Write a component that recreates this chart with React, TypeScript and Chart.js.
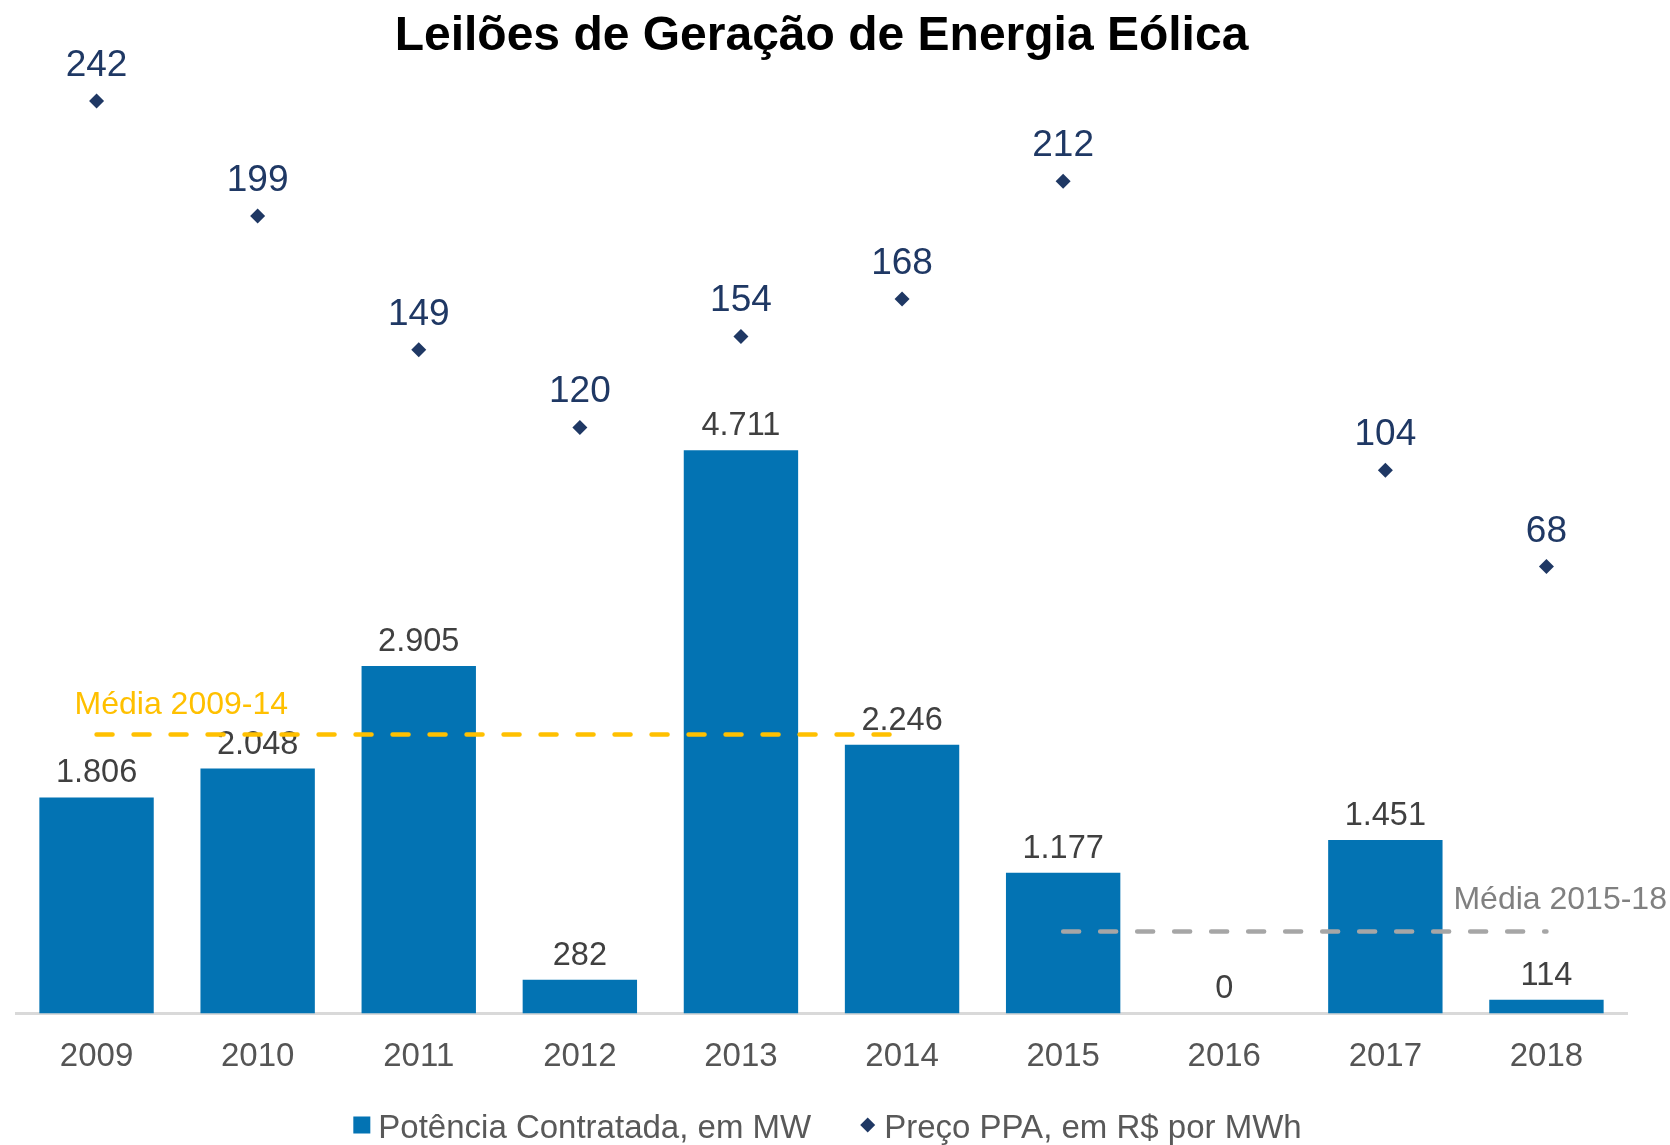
import React, { useEffect, useRef } from 'react';
import { Chart, registerables } from 'chart.js';

Chart.register(...registerables);

const FONT = '"Liberation Sans", Arial, Helvetica, sans-serif';

// ---- Data ----
const years = ['2009', '2010', '2011', '2012', '2013', '2014', '2015', '2016', '2017', '2018'];
const potenciaMW = [1806, 2048, 2905, 282, 4711, 2246, 1177, 0, 1451, 114];
const precoPPA = [242, 199, 149, 120, 154, 168, 212, null, 104, 68];
const media2009a14 = [2333, 2333, 2333, 2333, 2333, 2333, null, null, null, null];
const media2015a18 = [null, null, null, null, null, null, 686, 686, 686, 686];

const titleText = 'Leilões de Geração de Energia Eólica';
const serieBarLabel = 'Potência Contratada, em MW';
const seriePrecoLabel = 'Preço PPA, em R$ por MWh';
const mediaLabelA = 'Média 2009-14';
const mediaLabelB = 'Média 2015-18';

const BAR_COLOR = '#0373B3';
const PRICE_COLOR = '#1F3864';
const YELLOW = '#FFC000';
const GREY_LINE = '#A6A6A6';

const fmt = (v: number) => String(v).replace(/\B(?=(\d{3})+(?!\d))/g, '.');

const labelsPlugin = {
  id: 'customLabels',
  afterDatasetDraw(chart: any, args: any) {
    if (args.index !== 0) return;
    const ctx = chart.ctx;
    const meta = chart.getDatasetMeta(0);
    ctx.save();
    ctx.font = `32.5px ${FONT}`;
    ctx.fillStyle = '#404040';
    ctx.textAlign = 'center';
    ctx.textBaseline = 'alphabetic';
    meta.data.forEach((bar: any, i: number) => {
      ctx.fillText(fmt(potenciaMW[i]), bar.x, bar.y - 15);
    });
    ctx.restore();
  },
  afterDatasetsDraw(chart: any) {
    const ctx = chart.ctx;
    ctx.save();
    // price labels
    const meta = chart.getDatasetMeta(1);
    ctx.font = `37px ${FONT}`;
    ctx.fillStyle = PRICE_COLOR;
    ctx.textAlign = 'center';
    ctx.textBaseline = 'alphabetic';
    meta.data.forEach((pt: any, i: number) => {
      const v = precoPPA[i];
      if (v == null) return;
      ctx.fillText(String(v), pt.x, pt.y - 25);
    });
    // media labels
    const xS = chart.scales.x;
    const yS = chart.scales.y;
    ctx.font = `32px ${FONT}`;
    ctx.textAlign = 'left';
    const aIdx = media2009a14.findIndex((v) => v != null);
    const aVal = media2009a14[aIdx] as number;
    ctx.fillStyle = YELLOW;
    ctx.fillText(mediaLabelA, xS.getPixelForValue(aIdx) - 22, yS.getPixelForValue(aVal) - 20);
    let bIdx = -1;
    media2015a18.forEach((v, i) => { if (v != null) bIdx = i; });
    const bVal = media2015a18[bIdx] as number;
    ctx.fillStyle = '#808080';
    ctx.fillText(mediaLabelB, xS.getPixelForValue(bIdx) - 93, yS.getPixelForValue(bVal) - 22);
    ctx.restore();
  },
  afterDraw(chart: any) {
    // legend
    const ctx = chart.ctx;
    ctx.save();
    ctx.font = `33px ${FONT}`;
    const w1 = ctx.measureText(serieBarLabel).width;
    const w2 = ctx.measureText(seriePrecoLabel).width;
    const sq = 17;
    const dm = 15;
    const gapBox = 8;
    const gapItems = 49;
    const total = sq + gapBox + w1 + gapItems + dm + 9 + w2;
    const area = chart.chartArea;
    let x = (area.left + area.right) / 2 + 6 - total / 2;
    const cy = chart.height - 20;
    ctx.fillStyle = BAR_COLOR;
    ctx.fillRect(x, cy - sq / 2, sq, sq);
    x += sq + gapBox;
    ctx.fillStyle = '#595959';
    ctx.textAlign = 'left';
    ctx.textBaseline = 'alphabetic';
    ctx.fillText(serieBarLabel, x, cy + 13);
    x += w1 + gapItems;
    ctx.fillStyle = PRICE_COLOR;
    ctx.beginPath();
    ctx.moveTo(x + dm / 2, cy - dm / 2);
    ctx.lineTo(x + dm, cy);
    ctx.lineTo(x + dm / 2, cy + dm / 2);
    ctx.lineTo(x, cy);
    ctx.closePath();
    ctx.fill();
    x += dm + 9;
    ctx.fillStyle = '#595959';
    ctx.fillText(seriePrecoLabel, x, cy + 13);
    ctx.restore();
  },
};

export default function App() {
  const canvasRef = useRef<HTMLCanvasElement | null>(null);

  useEffect(() => {
    if (!canvasRef.current) return;
    Chart.defaults.font.family = FONT;
    const chart = new Chart(canvasRef.current, {
      type: 'bar',
      data: {
        labels: years,
        datasets: [
          {
            type: 'bar',
            label: serieBarLabel,
            data: potenciaMW,
            backgroundColor: BAR_COLOR,
            borderWidth: 0,
            barPercentage: 0.71,
            categoryPercentage: 1,
            yAxisID: 'y',
            order: 4,
          } as any,
          {
            type: 'line',
            label: seriePrecoLabel,
            data: precoPPA,
            showLine: false,
            pointStyle: 'rectRot',
            pointRadius: 7.5,
            pointBackgroundColor: PRICE_COLOR,
            pointBorderColor: PRICE_COLOR,
            pointBorderWidth: 0,
            yAxisID: 'y2',
            clip: false,
            order: 1,
          } as any,
          {
            type: 'line',
            label: mediaLabelA,
            data: media2009a14,
            borderColor: YELLOW,
            borderWidth: 4.5,
            borderDash: [16, 21],
            borderCapStyle: 'round',
            pointRadius: 0,
            fill: false,
            yAxisID: 'y',
            order: 2,
          } as any,
          {
            type: 'line',
            label: mediaLabelB,
            data: media2015a18,
            borderColor: GREY_LINE,
            borderWidth: 4.5,
            borderDash: [16, 21],
            borderCapStyle: 'round',
            pointRadius: 0,
            fill: false,
            yAxisID: 'y',
            order: 3,
          } as any,
        ],
      },
      plugins: [labelsPlugin],
      options: {
        responsive: true,
        maintainAspectRatio: false,
        animation: false,
        events: [],
        layout: { padding: { top: 0, left: 16, right: 43, bottom: 45 } },
        plugins: {
          legend: { display: false },
          tooltip: { enabled: false },
          title: {
            display: true,
            text: titleText,
            color: '#000000',
            font: { size: 48, weight: 'bold', family: FONT },
            padding: { top: 8, bottom: 14 },
          },
        },
        scales: {
          x: {
            grid: { display: false, drawTicks: false },
            border: { display: true, color: '#D9D9D9', width: 3 },
            ticks: { font: { size: 33, family: FONT }, color: '#555555', padding: 23.5 },
          },
          y: { display: false, min: 0, max: 7810 },
          y2: { display: false, min: -99, max: 250, position: 'right' },
        },
      } as any,
    });
    return () => chart.destroy();
  }, []);

  return (
    <div style={{ position: 'fixed', left: 0, top: 0, width: 1670, height: 1145, background: '#ffffff' }}>
      <canvas ref={canvasRef} />
    </div>
  );
}
